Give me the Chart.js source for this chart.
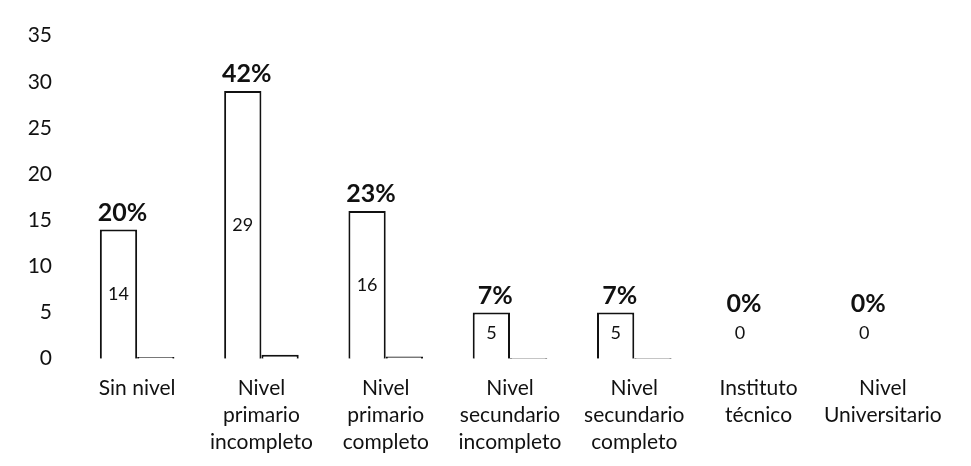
<!DOCTYPE html>
<html>
<head>
<meta charset="utf-8">
<script src="https://cdn.jsdelivr.net/npm/chart.js@4"></script>
<style>
  html, body { margin: 0; padding: 0; background: #fff; }
  #wrap { width: 971px; height: 466px; }
</style>
</head>
<body>
<div id="wrap"><canvas id="nivelChart"></canvas></div>
<script>
/* Datos */
const categorias = [
  'Sin nivel',
  ['Nivel', 'primario', 'incompleto'],
  ['Nivel', 'primario', 'completo'],
  ['Nivel', 'secundario', 'incompleto'],
  ['Nivel', 'secundario', 'completo'],
  ['Instituto', 'técnico'],
  ['Nivel', 'Universitario']
];
const cantidades = [14, 29, 16, 5, 5, 0, 0];
const porcentajes = [20, 42, 23, 7, 7, 0, 0];
const ticksY = [0, 5, 10, 15, 20, 25, 30, 35];

const fuente = 'Lato, "Open Sans", sans-serif';

/* etiquetas: cantidad dentro de la barra, porcentaje encima */
const etiquetas = {
  id: 'etiquetas',
  afterDatasetsDraw(chart) {
    const ctx = chart.ctx;
    const meta = chart.getDatasetMeta(0);
    const base = chart.scales.y.getPixelForValue(0);
    ctx.save();
    ctx.fillStyle = '#111';
    ctx.textAlign = 'center';
    ctx.textBaseline = 'middle';
    meta.data.forEach((bar, i) => {
      const centro = Math.min((bar.y + base) / 2, base - 26);
      ctx.font = '18px ' + fuente;
      ctx.fillText(String(cantidades[i]), bar.x, centro);
      const arriba = Math.min(bar.y - 17, base - 55);
      ctx.font = 'bold 25px ' + fuente;
      ctx.fillText(porcentajes[i] + '%', bar.x + 4, arriba);
    });
    ctx.restore();
  }
};

new Chart(document.getElementById('nivelChart'), {
  type: 'bar',
  data: {
    labels: categorias,
    datasets: [{
      label: 'Cantidad',
      data: cantidades,
      backgroundColor: '#fff',
      borderColor: '#111',
      borderWidth: 2,
      categoryPercentage: 0.6,
      barPercentage: 1
    }, {
      label: 'Porcentaje',
      data: porcentajes.map(p => p / 100),
      backgroundColor: '#fff',
      borderColor: '#111',
      borderWidth: 2,
      categoryPercentage: 0.6,
      barPercentage: 1
    }]
  },
  options: {
    responsive: true,
    maintainAspectRatio: false,
    animation: false,
    layout: { padding: { top: 20, left: 25, right: 26, bottom: -6 } },
    plugins: {
      legend: { display: false },
      tooltip: { enabled: false }
    },
    scales: {
      x: {
        grid: { display: false, drawTicks: false },
        border: { display: false },
        ticks: {
          color: '#111',
          padding: 16,
          maxRotation: 0,
          autoSkip: false,
          font: { family: fuente, size: 21, lineHeight: 1.29 }
        }
      },
      y: {
        min: 0,
        max: ticksY[ticksY.length - 1],
        grid: { display: false, drawTicks: false },
        border: { display: false },
        afterBuildTicks: axis => { axis.ticks = ticksY.map(v => ({ value: v })); },
        afterFit: axis => { axis.width = 50; },
        ticks: {
          color: '#111',
          padding: 23,
          font: { family: fuente, size: 21 }
        }
      }
    }
  },
  plugins: [etiquetas]
});
</script>
</body>
</html>
